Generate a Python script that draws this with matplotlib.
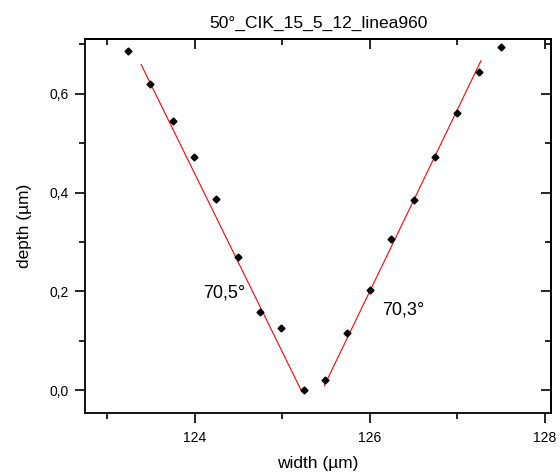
import matplotlib
matplotlib.use("Agg")
import matplotlib.pyplot as plt
from matplotlib.ticker import MultipleLocator, FuncFormatter

plt.rcParams['font.family'] = ['Liberation Sans', 'DejaVu Sans']

# measured points (width, depth) in um
width_um = [123.24, 123.49, 123.75, 123.99, 124.25, 124.49, 124.75, 124.99, 125.25,
            125.49, 125.74, 126.00, 126.24, 126.50, 126.75, 127.00, 127.25, 127.50]
depth_um = [0.687, 0.619, 0.544, 0.473, 0.388, 0.269, 0.159, 0.127, 0.000,
            0.021, 0.116, 0.203, 0.306, 0.386, 0.473, 0.562, 0.644, 0.695]

# linear fits of both flanks (end points)
fit_left_x = [123.39, 125.225]
fit_left_y = [0.659, -0.003]
fit_right_x = [125.48, 127.27]
fit_right_y = [0.009, 0.667]

angle_labels = ['70,5°', '70,3°']
angle_pos = [(124.10, 0.196), (126.14, 0.162)]

title = '50°_CIK_15_5_12_linea960'

fig = plt.figure(figsize=(5.6, 4.75), dpi=100, facecolor='white')
ax = fig.add_axes([0.152, 0.1305, 0.832, 0.7875])

ax.plot(fit_left_x, fit_left_y, color='#ff0000', lw=0.8)
ax.plot(fit_right_x, fit_right_y, color='#ff0000', lw=0.8)
ax.plot(width_um, depth_um, 'D', color='black', ms=3.5, ls='none')

for txt, (tx, ty) in zip(angle_labels, angle_pos):
    ax.text(tx, ty, txt, fontsize=13, ha='left', va='center')

ax.set_xlim(122.75, 128.07)
ax.set_ylim(-0.046, 0.711)

comma = FuncFormatter(lambda v, p: ('%.1f' % v).replace('.', ','))
ax.xaxis.set_major_locator(MultipleLocator(2))
ax.xaxis.set_minor_locator(MultipleLocator(1))
ax.yaxis.set_major_locator(MultipleLocator(0.2))
ax.yaxis.set_minor_locator(MultipleLocator(0.1))
ax.yaxis.set_major_formatter(comma)
ax.tick_params(which='major', direction='out', length=7, width=1.2, labelsize=10)
ax.tick_params(axis='x', which='major', pad=6)
ax.tick_params(axis='y', which='major', pad=4.5)
ax.tick_params(which='minor', direction='out', length=4, width=1.2)

# top and right ticks point inward
top = ax.secondary_xaxis('top')
top.xaxis.set_major_locator(MultipleLocator(2))
top.xaxis.set_minor_locator(MultipleLocator(1))
top.tick_params(which='major', direction='in', length=7, width=1.2, labeltop=False)
top.tick_params(which='minor', direction='in', length=4, width=1.2)
right = ax.secondary_yaxis('right')
right.yaxis.set_major_locator(MultipleLocator(0.2))
right.yaxis.set_minor_locator(MultipleLocator(0.1))
right.tick_params(which='major', direction='in', length=7, width=1.2, labelright=False)
right.tick_params(which='minor', direction='in', length=4, width=1.2)

for sp in list(ax.spines.values()) + [top.spines['top'], right.spines['right']]:
    sp.set_linewidth(1.3)

ax.set_xlabel('width (µm)', fontsize=12.5, labelpad=8)
ax.set_ylabel('depth (µm)', fontsize=12.5, labelpad=13)
ax.set_title(title, fontsize=12.5, pad=8)

fig.savefig('out.png', dpi=100)
